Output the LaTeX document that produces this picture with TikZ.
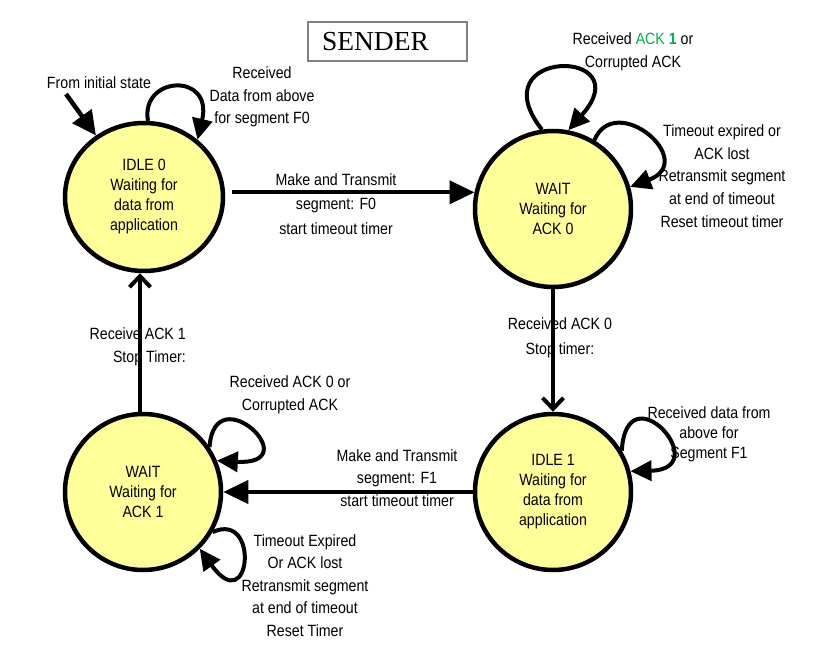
\documentclass[tikz,border=0pt]{standalone}
\usepackage{fontspec}
\setmainfont{Liberation Sans}[FakeStretch=0.87]
\newfontfamily\titlefont{Liberation Serif}
\usetikzlibrary{arrows.meta,shapes.geometric}
\definecolor{stateyellow}{RGB}{255,255,153}
\definecolor{ackgreen}{RGB}{0,176,80}

\begin{document}
\begin{tikzpicture}[x=1pt,y=-1pt]
\tikzset{state/.style={circle,draw,line width=4.5pt,fill=stateyellow,minimum size=156pt,inner sep=0pt,align=center,font=\fontsize{16.3}{20}\selectfont},
  lbl/.style={align=center,inner sep=0pt,font=\fontsize{16.3}{22.6}\selectfont},
  lblwide/.style={lbl,font=\fontsize{16.3}{24.5}\selectfont},
  lbltight/.style={lbl,font=\fontsize{16.3}{20}\selectfont},
  trans/.style={line width=4pt,-{Triangle[length=25pt,width=23pt]}},
  transv/.style={line width=4pt,-{Straight Barb[length=11pt,width=21pt]}},
  selfloop/.style={line width=4pt,-{Triangle[length=21pt,width=20pt]}}};

\useasboundingbox (0,0) rectangle (820,647);

% states
\node[state,ellipse,minimum width=158pt,minimum height=148pt] (idle0) at (144,197) {IDLE 0\\Waiting for\\data from\\application};
\node[state] (wait0) at (553,209) {WAIT\\Waiting for\\ACK 0};
\node[state] (idle1) at (553,492) {IDLE 1\\Waiting for\\data from\\application};
\node[state] (wait1) at (143,492) {WAIT\\Waiting for\\ACK 1};

% title
\node[draw=gray,line width=1.2pt,text width=131pt,align=left,inner xsep=14pt,minimum height=39pt,
  font=\titlefont\fontsize{27.5}{30}\selectfont] (title) at (387.5,41.5) {SENDER};

% labels
\node[lbl] (initlbl) at (99,83) {From initial state};
\node[lbl] (lblidlea) at (262,97) {Received\\Data from above\\for segment F0};
\node[lbl] (lblwaita) at (633,52) {Received {\color{ackgreen}ACK \textbf{1}} or\\Corrupted ACK};
\node[lbl] (lblwaitb) at (722,176) {Timeout expired or\\ACK lost\\Retransmit segment\\at end of timeout\\Reset timeout timer};
\node[lblwide] (lblsenda) at (336,204) {Make and Transmit\\segment: F0\\start timeout timer};
\node[lblwide] (lblacka) at (560,338) {Received ACK 0\\Stop timer:};
\node[lbltight] (lblidleb) at (709,434) {Received data from\\above for\\Segment F1};
\node[lbl] (lblsendb) at (397,478) {Make and Transmit\\segment: F1\\start timeout timer};
\node[lbl,align=right,anchor=east] (lblackb) at (186,347) {Receive ACK 1\\Stop Timer:};
\node[lbl] (lblwaitc) at (290,394.5) {Received ACK 0 or\\Corrupted ACK};
\node[lbl] (lblwaitd) at (305,585.5) {Timeout Expired\\Or ACK lost\\Retransmit segment\\at end of timeout\\Reset Timer};

% transitions
\coordinate (init) at (66,94);
\draw[line width=4.5pt,-{Triangle[length=24pt,width=23pt]}] (init) -- (idle0.128);
\draw[trans,shorten <=7pt] (idle0.east |- wait0.168) -- (wait0.168);
\draw[transv] (wait0.south) -- (idle1.north);
\draw[trans] (idle1.west) -- (wait1.east);
\draw[transv] ([xshift=-3pt]wait1.north) -- ([xshift=-3pt]wait1.north |- idle0.south);

% self loops
\draw[selfloop] (idle0.87) .. controls +(-8,-45) and +(16,-68) .. (idle0.47);
\draw[selfloop] (wait0.98) .. controls +(-64,-82) and +(74,-83) .. (wait0.79);
\draw[selfloop] (wait0.59) .. controls +(21,-50) and +(69,-26) .. (wait0.16);
\draw[selfloop] (idle1.31) .. controls +(5,-82) and +(86,-2) .. (idle1.15);
\draw[selfloop] (wait1.34) .. controls +(5,-72) and +(92,5) .. (wait1.23);
\draw[selfloop] (wait1.-30) .. controls +(48,-22) and +(51,71) .. (wait1.-45);
\end{tikzpicture}
\end{document}
